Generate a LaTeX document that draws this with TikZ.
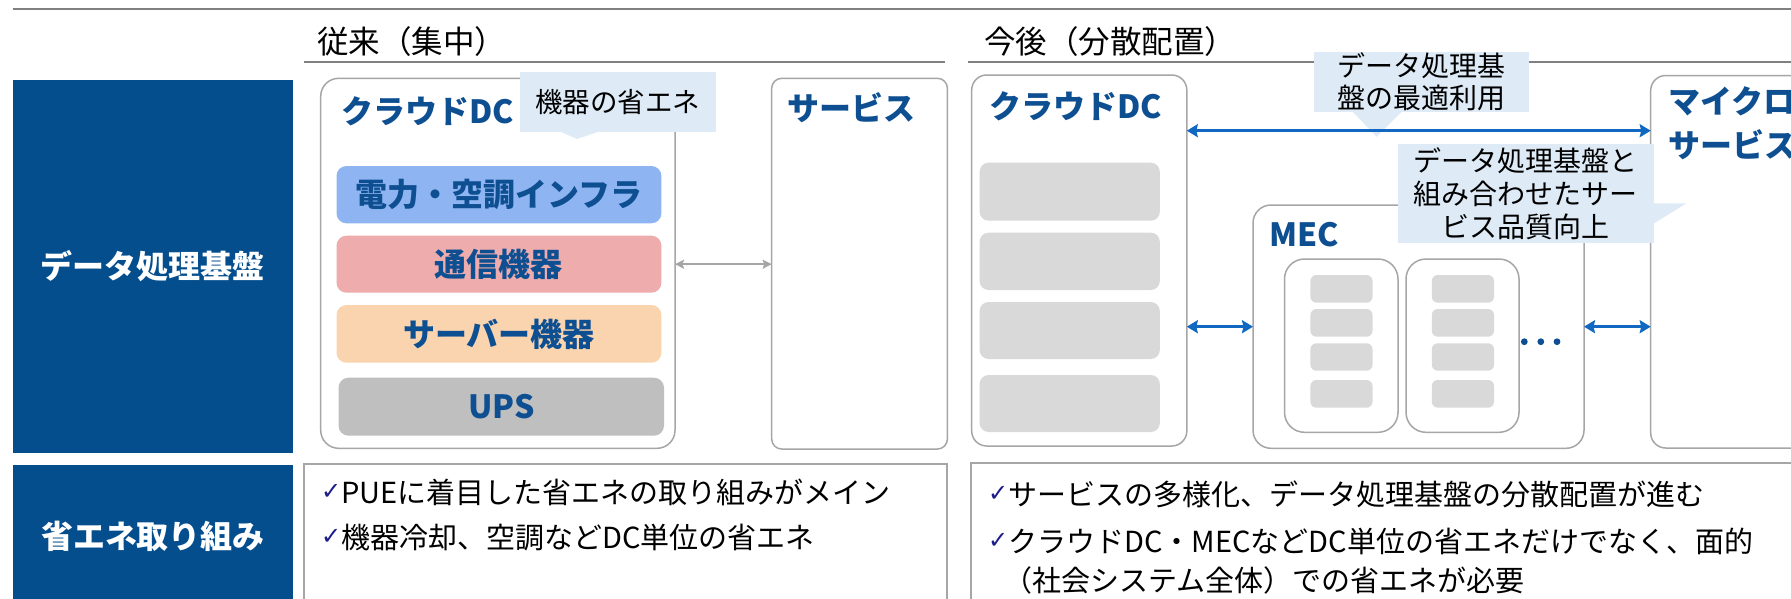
\documentclass[tikz,border=0pt]{standalone}
\usepackage{fontspec}
\setmainfont{Noto Sans CJK JP}
\newfontfamily\symf{DejaVu Sans}
\usetikzlibrary{arrows.meta}
\definecolor{hdrblue}{HTML}{044E8E}
\definecolor{ttlblue}{HTML}{0E4F92}
\definecolor{arrblue}{HTML}{1068C1}
\definecolor{callfill}{HTML}{DEEBF7}
\definecolor{bgray}{HTML}{A6A6A6}
\definecolor{lgray}{HTML}{D9D9D9}
\definecolor{linegray}{HTML}{808080}
\definecolor{layA}{HTML}{8EB5F2}
\definecolor{layB}{HTML}{EEACAD}
\definecolor{layC}{HTML}{FAD4AE}
\definecolor{layD}{HTML}{BFBFBF}
\definecolor{chkblue}{HTML}{1C1C8A}
\newcommand\fs[1]{\fontsize{#1}{#1}\selectfont}
\newcommand\chk{\raisebox{4pt}{\symf\fontsize{24}{24}\selectfont\textcolor{chkblue}{✓}}}
\newcommand\mkbox[7]{\node[#2, anchor=north west, inner sep=0pt, outer sep=0pt,
  minimum width={(#5-#3)*1pt}, minimum height={(#6-#4)*1pt}] (#1) at (#3,#4) {#7};}
\begin{document}
\begin{tikzpicture}[x=1pt,y=-1pt,
  hline/.style={draw=linegray, line width=2pt},
  txt/.style={inner sep=0pt, outer sep=0pt},
  hdr/.style={fill=hdrblue, text=white, font=\bfseries\fs{32}},
  rbox/.style={draw=bgray, line width=1.5pt, fill=white},
  sqbox/.style={draw=bgray, line width=1.5pt, fill=white},
  layer/.style={rounded corners=10pt, text=ttlblue, font=\bfseries\fs{32}},
  gblk/.style={fill=lgray, rounded corners=9pt},
  sblk/.style={fill=lgray, rounded corners=6pt},
  callout/.style={fill=callfill, align=center},
  ttl/.style={txt, anchor=west, text=ttlblue, font=\bfseries\fs{32}},
  body/.style={txt, anchor=west, font=\fs{29}},
  barr/.style={draw=arrblue, line width=3.3pt, {Stealth[length=11pt,width=13pt,inset=1.5pt]}-{Stealth[length=11pt,width=13pt,inset=1.5pt]}},
  garr/.style={draw=bgray, line width=1.8pt, {Stealth[length=9pt,width=9pt,inset=1.5pt]}-{Stealth[length=9pt,width=9pt,inset=1.5pt]}}
]
\useasboundingbox (0,0) rectangle (1791,598);
\clip (0,0) rectangle (1791,598);
\fill[white] (0,0) rectangle (1791,598);

% rules
\draw[hline] (12.6,9.3) -- (1791,9.3);
\draw[hline] (304,61.7) -- (945,61.7);
\draw[hline] (968,61.7) -- (1791,61.7);

% section titles
\node[txt, anchor=west, font=\fs{31.5}] (secA) at (317,42) {従来（集中）};
\node[txt, anchor=west, font=\fs{31.5}] (secB) at (984,42) {今後（分散配置）};

% row headers
\mkbox{hdrA}{hdr}{12.6}{80}{293}{452.5}{データ処理基盤}
\mkbox{hdrB}{hdr}{12.6}{464.5}{293}{620}{}
\node[txt, text=white, font=\bfseries\fs{32}] (hdrBt) at (153,536) {省エネ取り組み};

% ---- conventional ----
\mkbox{dcA}{rbox, rounded corners=18pt}{320.7}{78.3}{675}{448.3}{}
\node[ttl] (dcAt) at (341,111.5) {クラウドDC};
\mkbox{layA}{layer, fill=layA}{336.5}{166}{661.4}{223.3}{電力・空調インフラ}
\mkbox{layB}{layer, fill=layB}{336.5}{235.7}{661.4}{292.7}{通信機器}
\mkbox{layC}{layer, fill=layC}{336.5}{305}{661.4}{362.7}{サーバー機器}
\mkbox{layD}{layer, fill=layD}{338.5}{377.7}{664}{435.7}{UPS}
\mkbox{calA}{callout, font=\fs{27.5}}{519.7}{72.3}{715.8}{131.7}{機器の省エネ}
\fill[callfill] (559,131) -- (577,139) -- (600.5,131) -- cycle;

\mkbox{svcA}{rbox, rounded corners=10pt}{771.7}{78.3}{947.4}{449}{}
\node[ttl] (svcAt) at (787,107.5) {サービス};
\draw[garr] (dcA.east |- layB) -- (svcA.west |- layB);

% bottom text boxes
\mkbox{botA}{sqbox}{304}{464}{947}{620}{}
\mkbox{botB}{sqbox}{971}{463}{1850}{620}{}
\node[body] (b1) at (321,492.5) {\chk PUEに着目した省エネの取り組みがメイン};
\node[body] (b2) at (321,537.5) {\chk 機器冷却、空調などDC単位の省エネ};
\node[body] (b3) at (988,494) {\chk サービスの多様化、データ処理基盤の分散配置が進む};
\node[body] (b4) at (988,541.5) {\chk クラウドDC・MECなどDC単位の省エネだけでなく、面的};
\node[body] (b5) at (1003,580) {（社会システム全体）での省エネが必要};

% ---- future ----
\mkbox{dcB}{rbox, rounded corners=15pt}{971.7}{75}{1186.8}{446}{}
\node[ttl] (dcBt) at (989,106.5) {クラウドDC};
\mkbox{gA}{gblk}{979.6}{162.7}{1159.8}{220.7}{}
\mkbox{gB}{gblk}{979.6}{232.7}{1159.8}{290}{}
\mkbox{gC}{gblk}{979.6}{302}{1159.8}{359}{}
\mkbox{gD}{gblk}{979.6}{375}{1159.8}{432}{}

\mkbox{mec}{rbox, rounded corners=18pt}{1253}{205}{1584}{448.3}{}
\node[ttl] (mect) at (1269,235) {MEC};
\mkbox{inA}{rbox, rounded corners=20pt}{1284.5}{259}{1398}{432.3}{}
\mkbox{inB}{rbox, rounded corners=20pt}{1406}{259}{1519}{432.3}{}
\mkbox{sA1}{sblk}{1310.4}{275}{1372.5}{302.7}{}
\mkbox{sA2}{sblk}{1310.4}{309}{1372.5}{336.7}{}
\mkbox{sA3}{sblk}{1310.4}{343.3}{1372.5}{370.7}{}
\mkbox{sA4}{sblk}{1310.4}{380}{1372.5}{407.7}{}
\mkbox{sB1}{sblk}{1431.8}{275}{1494}{302.7}{}
\mkbox{sB2}{sblk}{1431.8}{309}{1494}{336.7}{}
\mkbox{sB3}{sblk}{1431.8}{343.3}{1494}{370.7}{}
\mkbox{sB4}{sblk}{1431.8}{380}{1494}{407.7}{}
\fill[ttlblue] (1524.3,341.7) circle (3.4pt) (1540.8,341.7) circle (3.4pt) (1557,341.7) circle (3.4pt);

\mkbox{micro}{rbox, rounded corners=15pt}{1650.7}{75.5}{1860}{448}{}
\node[ttl] (microt1) at (1668,101) {マイクロ};
\node[ttl] (microt2) at (1668,145) {サービス};

% callouts
\mkbox{calB}{callout, font=\fontsize{28}{31.5}\selectfont}{1313.5}{51.7}{1528.7}{111.7}{データ処理基\\盤の最適利用}
\fill[callfill] (1352,111) -- (1376.6,136.7) -- (1402.5,111) -- cycle;
\mkbox{calC}{callout, font=\fontsize{28}{33}\selectfont}{1398.4}{144.3}{1653.5}{242.5}{データ処理基盤と\\組み合わせたサー\\ビス品質向上}
\fill[callfill] (1653,203.3) -- (1686.4,203.3) -- (1653,224) -- cycle;

% connectors
\coordinate (yTop) at (0,130.7);
\coordinate (yBot) at (0,326.7);
\draw[barr] (dcB.east |- yTop) -- (micro.west |- yTop);
\draw[barr] (dcB.east |- yBot) -- (mec.west |- yBot);
\draw[barr] (mec.east |- yBot) -- (micro.west |- yBot);
\end{tikzpicture}
\end{document}
